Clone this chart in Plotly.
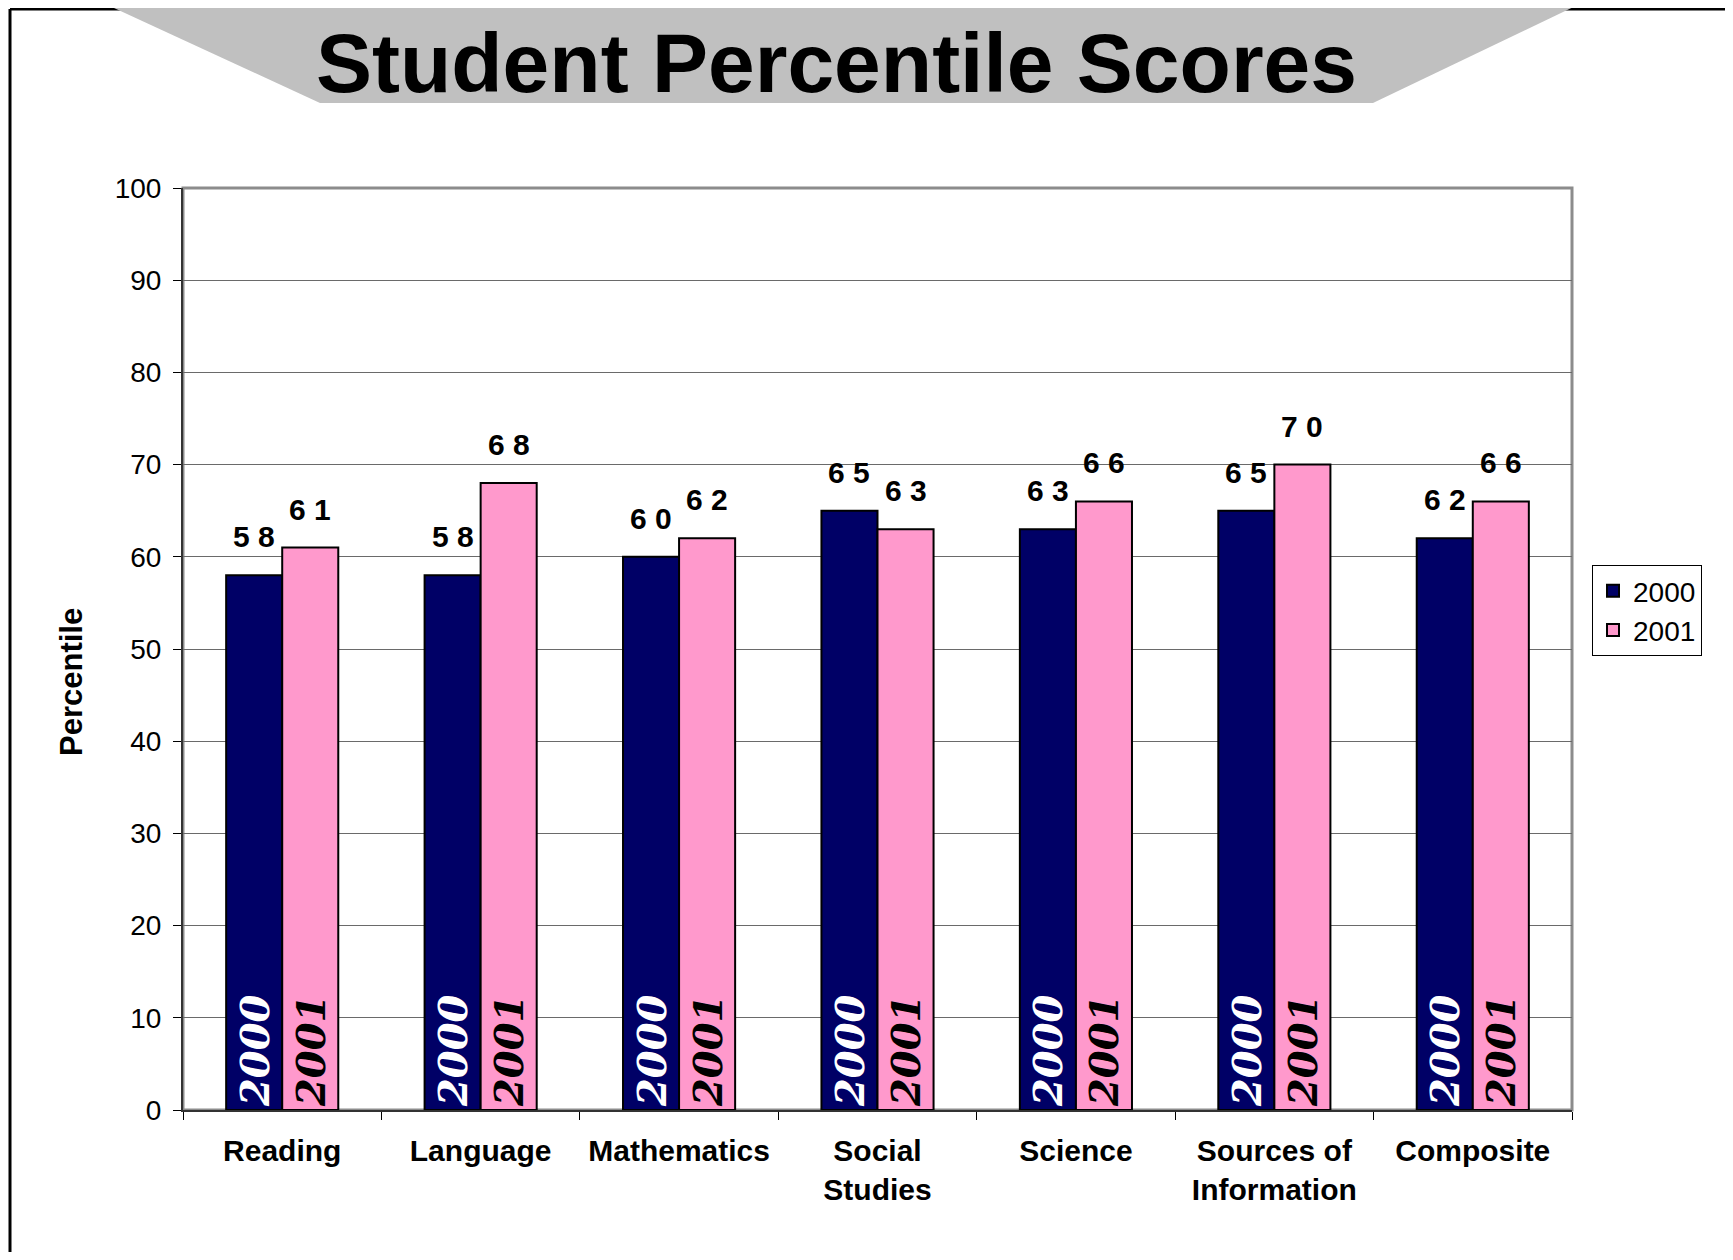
import plotly.graph_objects as go

# ---- data ----
categories = ["Reading", "Language", "Mathematics", "Social<br>Studies", "Science",
              "Sources of<br>Information", "Composite"]
series_names = ["2000", "2001"]
scores_2000 = [58, 58, 60, 65, 63, 65, 62]
scores_2001 = [61, 68, 62, 63, 66, 70, 66]
y_ticks = [0, 10, 20, 30, 40, 50, 60, 70, 80, 90, 100]
title_text = "Student Percentile Scores"
y_title = "Percentile"

# ---- layout geometry (page pixels) ----
W, H = 1733, 1260
OFF = 8                      # page body margin
FW, FH = W - 2 * OFF, H - 2 * OFF
L, R, T, B = 183, 1572, 188, 1110   # plot area on the page
BARGAP = 0.435


def px_x(px):
    return (px - L) / (R - L)


def px_y(py):
    return (B - py) / (B - T)


NAVY = "#000066"
PINK = "#FF99CC"
SANS = "Liberation Sans, Arial, sans-serif"
SERIF = "DejaVu Serif, serif"

fig = go.Figure()
colors = [NAVY, PINK]
inner_colors = ["white", "black"]
for name, vals, col, icol in zip(series_names, [scores_2000, scores_2001], colors, inner_colors):
    fig.add_trace(go.Bar(
        name=name, x=categories, y=vals,
        marker=dict(color=col, line=dict(color="black", width=2)),
        text=[name] * len(vals), textposition="inside", insidetextanchor="start",
        textangle=-90, constraintext="none",
        insidetextfont=dict(family=SERIF, size=40, color=icol, weight="bold", style="italic"),
        hoverinfo="skip",
    ))

# value labels above bars
cat_w = (R - L) / len(categories)
off = cat_w * (1 - BARGAP) / 4
annotations = []
for vals, sgn in [(scores_2000, -1), (scores_2001, 1)]:
    for c, v in zip(categories, vals):
        annotations.append(dict(
            x=c, y=v, xref="x", yref="y", xshift=sgn * off, yshift=20,
            yanchor="bottom", xanchor="center", showarrow=False,
            text=" ".join(str(v)),
            font=dict(family=SANS, size=30, color="black", weight="bold"),
        ))

# y-axis title
annotations.append(dict(
    x=px_x(71), y=px_y(682), xref="paper", yref="paper", showarrow=False,
    text=y_title, textangle=-90, xanchor="center", yanchor="middle",
    font=dict(family=SANS, size=31, color="black", weight="bold"),
))

# page title
annotations.append(dict(
    x=px_x(836), y=px_y(112), xref="paper", yref="paper", showarrow=False,
    text=title_text, xanchor="center", yanchor="bottom",
    font=dict(family=SANS, size=84, color="black", weight="bold"),
))


def pt(x, y):
    return f"{px_x(x):.5f},{px_y(y):.5f}"


shapes = [
    # page frame lines
    dict(type="line", xref="paper", yref="paper", x0=px_x(10), y0=px_y(9), x1=px_x(W + 20), y1=px_y(9),
         line=dict(color="black", width=3), layer="above"),
    dict(type="line", xref="paper", yref="paper", x0=px_x(10), y0=px_y(9), x1=px_x(10), y1=px_y(H + 20),
         line=dict(color="black", width=3), layer="above"),
    # gray trapezoid banner
    dict(type="path", xref="paper", yref="paper",
         path=f"M{pt(75, -10)} L{pt(1609, -10)} L{pt(1373, 103)} L{pt(320, 103)} Z",
         fillcolor="#C0C0C0", line=dict(width=0), layer="above"),
    # plot frame
    dict(type="rect", xref="paper", yref="paper", x0=0, y0=0, x1=1, y1=1,
         line=dict(color="#8c8c8c", width=3), layer="below"),
]

fig.update_layout(
    width=FW, height=FH,
    margin=dict(l=L - OFF, r=FW - (R - OFF), t=T - OFF, b=FH - (B - OFF), autoexpand=False),
    paper_bgcolor="white", plot_bgcolor="white",
    barmode="group", bargap=BARGAP, bargroupgap=0,
    showlegend=True,
    legend=dict(x=px_x(1592), y=px_y(565), xanchor="left", yanchor="top",
                bordercolor="black", borderwidth=1, bgcolor="white",
                font=dict(family=SANS, size=28, color="black"),
                itemwidth=30, tracegroupgap=0),
    annotations=annotations,
    shapes=shapes,
    xaxis=dict(
        type="category", showgrid=False, showline=True, linecolor="#333333", linewidth=2,
        ticks="outside", tickson="boundaries", ticklen=8, tickcolor="black", tickwidth=1,
        tickfont=dict(family=SANS, size=30, color="black", weight="bold"),
        ticklabelstandoff=13, fixedrange=True,
    ),
    yaxis=dict(
        range=[0, 100], tickvals=y_ticks, showgrid=True, gridcolor="#6a6a6a", gridwidth=1,
        showline=True, linecolor="#333333", linewidth=2, zeroline=False,
        ticks="outside", ticklen=8, tickcolor="black", tickwidth=1,
        tickfont=dict(family=SANS, size=28, color="black"),
        ticklabelstandoff=6, fixedrange=True,
    ),
)

fig.write_html("out.html")
